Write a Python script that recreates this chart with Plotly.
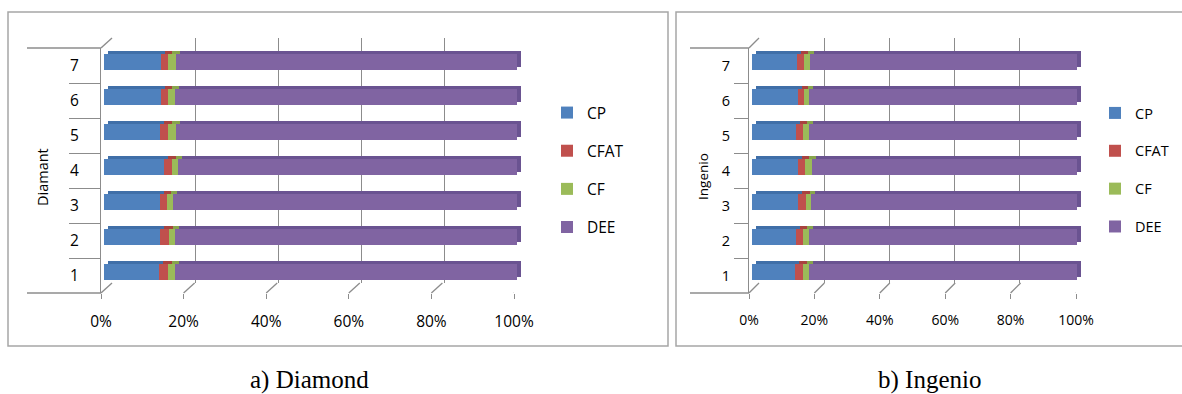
import plotly.graph_objects as go

W, H = 1182, 394

categories = [1, 2, 3, 4, 5, 6, 7]
cat_labels = ["1", "2", "3", "4", "5", "6", "7"]
series_names = ["CP", "CFAT", "CF", "DEE"]

# Diamond (left) - percent
diam_CP = [13.3, 13.6, 13.6, 14.5, 13.6, 13.8, 13.8]
diam_CFAT = [2.1, 2.1, 1.6, 1.9, 2.0, 1.7, 1.8]
diam_CF = [1.8, 1.6, 1.6, 1.6, 1.9, 1.8, 1.9]
diam_DEE = [82.8, 82.7, 83.2, 82.0, 82.5, 82.7, 82.5]

# Ingenio (right) - percent
ing_CP = [13.1, 13.5, 14.2, 14.2, 13.6, 14.1, 13.8]
ing_CFAT = [2.6, 2.1, 2.5, 2.2, 2.2, 1.9, 2.3]
ing_CF = [1.8, 1.8, 1.5, 2.0, 1.8, 1.5, 1.7]
ing_DEE = [82.5, 82.6, 81.8, 81.6, 82.4, 82.5, 82.2]

x_tickvals = [0, 20, 40, 60, 80, 100]
x_ticktext = ["0%", "20%", "40%", "60%", "80%", "100%"]

colors = ["#4F81BD", "#C0504D", "#9BBB59", "#8064A2"]
dark_colors = ["#406FA8", "#A8433F", "#87A54C", "#6A5391"]
GRAY = "#8C8C8C"
BOX = "#A6A6A6"


def px(p):
    return p / W


def py(p):
    return 1 - p / H


fig = go.Figure()
shapes = []
annotations = []


def add_panel(idx0, data, cfg, legend_name):
    gx, sx, bx, fx = [idx0 + i for i in range(4)]
    names = {}
    for k in (gx, sx, bx, fx):
        names[k] = ("x" if k == 1 else f"x{k}", "y" if k == 1 else f"y{k}")

    def axkey(a, k):
        return f"{a}axis" if k == 1 else f"{a}axis{k}"

    # grid subplot (back wall)
    fig.add_trace(go.Scatter(x=[None], y=[None], xaxis=names[gx][0], yaxis=names[gx][1],
                             showlegend=False, hoverinfo="skip"))
    fig.layout[axkey("x", gx)] = dict(domain=[px(cfg["grid_x"][0]), px(cfg["grid_x"][1])],
                                      range=[0, 100], anchor=names[gx][1], tickmode="array",
                                      tickvals=x_tickvals[1:], showticklabels=False,
                                      showgrid=True, gridcolor=GRAY, gridwidth=1.3,
                                      zeroline=False, showline=False, fixedrange=True,
                                      automargin=False)
    fig.layout[axkey("y", gx)] = dict(domain=[py(cfg["grid_y"][1]), py(cfg["grid_y"][0])],
                                      range=[0, 1], anchor=names[gx][0], visible=False,
                                      fixedrange=True, automargin=False)

    # shadow bars (top/side faces)
    for i, vals in enumerate(data):
        fig.add_trace(go.Bar(y=categories, x=vals, orientation="h", width=0.457,
                             marker=dict(color=dark_colors[i], line=dict(width=0)),
                             xaxis=names[sx][0], yaxis=names[sx][1], showlegend=False,
                             hoverinfo="skip"))
    dx, dy = cfg["depth_bar"]
    fig.layout[axkey("x", sx)] = dict(domain=[px(cfg["bar_x"][0] + dx), px(cfg["bar_x"][1] + dx)],
                                      range=[0, 100], anchor=names[sx][1], visible=False,
                                      fixedrange=True, automargin=False)
    fig.layout[axkey("y", sx)] = dict(domain=[py(cfg["bar_y"][1] - dy), py(cfg["bar_y"][0] - dy)],
                                      range=[0.5, 7.5], anchor=names[sx][0], visible=False,
                                      fixedrange=True, automargin=False)

    # front bars
    for i, vals in enumerate(data):
        fig.add_trace(go.Bar(y=categories, x=vals, orientation="h", width=0.457,
                             name=series_names[i], legendgroup=series_names[i] + legend_name,
                             marker=dict(color=colors[i], line=dict(width=0)),
                             xaxis=names[bx][0], yaxis=names[bx][1], legend=legend_name))
    fig.layout[axkey("x", bx)] = dict(domain=[px(cfg["bar_x"][0]), px(cfg["bar_x"][1])],
                                      range=[0, 100], anchor=names[bx][1], visible=False,
                                      fixedrange=True, automargin=False)
    fig.layout[axkey("y", bx)] = dict(domain=[py(cfg["bar_y"][1]), py(cfg["bar_y"][0])],
                                      range=[0.5, 7.5], anchor=names[bx][0], visible=False,
                                      fixedrange=True, automargin=False)

    # front axes
    fig.add_trace(go.Scatter(x=[None], y=[None], xaxis=names[fx][0], yaxis=names[fx][1],
                             showlegend=False, hoverinfo="skip"))
    fig.layout[axkey("x", fx)] = dict(domain=[px(cfg["front_x"][0]), px(cfg["front_x"][1])],
                                      range=[0, 100], anchor=names[fx][1], tickmode="array",
                                      tickvals=x_tickvals, ticktext=x_ticktext,
                                      ticks="outside", ticklen=5, tickcolor=GRAY, tickwidth=1.3,
                                      showgrid=False, zeroline=False, showline=False,
                                      tickfont=cfg["xfont"], ticklabelstandoff=cfg["xstand"],
                                      fixedrange=True, automargin=False)
    fig.layout[axkey("y", fx)] = dict(domain=[py(cfg["front_y"][1]), py(cfg["front_y"][0])],
                                      range=[0.5, 7.5], anchor=names[fx][0], tickmode="array",
                                      tickvals=categories, ticktext=cat_labels, ticks="",
                                      minor=dict(tickmode="array",
                                                 tickvals=[c + 0.5 for c in categories[:-1]],
                                                 ticks="outside", ticklen=cfg["minorlen"],
                                                 tickcolor=GRAY, tickwidth=1.3, showgrid=False),
                                      showgrid=False, zeroline=False, showline=True,
                                      linecolor=GRAY, linewidth=1.3,
                                      tickfont=cfg["yfont"], ticklabelstandoff=cfg["ystand"],
                                      fixedrange=True, automargin=False)

    ddx, ddy = cfg["depth"]
    # diagonal floor connectors at each tick
    for v in x_tickvals:
        shapes.append(dict(type="line", xref=names[fx][0], xsizemode="pixel", xanchor=v,
                           x0=0, x1=ddx, yref="paper", ysizemode="pixel",
                           yanchor=py(cfg["front_y"][1]), y0=0, y1=ddy,
                           line=dict(color=GRAY, width=1.3)))
    # top-left wall diagonal
    shapes.append(dict(type="line", xref=names[fx][0], xsizemode="pixel", xanchor=0,
                       x0=0, x1=ddx, yref="paper", ysizemode="pixel",
                       yanchor=py(cfg["front_y"][0]), y0=0, y1=ddy,
                       line=dict(color=GRAY, width=1.3)))
    # long category boundary lines (top & bottom)
    for yy in cfg["front_y"]:
        shapes.append(dict(type="line", xref="paper", yref="paper",
                           x0=px(cfg["longline_x"]), x1=px(cfg["front_x"][0]),
                           y0=py(yy), y1=py(yy), line=dict(color=GRAY, width=1.3)))

    annotations.append(dict(text=cfg["title"], x=px(cfg["title_pos"][0]), y=py(cfg["title_pos"][1]),
                            xref="paper", yref="paper", showarrow=False, textangle=-90,
                            font=cfg["titlefont"], xanchor="center", yanchor="middle"))
    annotations.append(dict(text=cfg["caption"], x=px(cfg["caption_pos"][0]),
                            y=py(cfg["caption_pos"][1]), xref="paper", yref="paper",
                            showarrow=False, xanchor="center", yanchor="middle",
                            font=dict(family="Liberation Serif, Times New Roman, serif",
                                      size=25, color="#000")))


left_cfg = dict(grid_x=(112, 527), grid_y=(38, 283), bar_x=(104, 517), bar_y=(43.5, 288.5),
                front_x=(101, 514), front_y=(48, 293), depth_bar=(4, 3), depth=(11, 10),
                longline_x=27, minorlen=31,
                xfont=dict(family="Open Sans", size=15.5, color="#000"), xstand=9,
                yfont=dict(family="Open Sans", size=15.5, color="#000"), ystand=18,
                title="Diamant", title_pos=(42, 177),
                titlefont=dict(family="Open Sans", size=14.5, color="#000"),
                caption="a) Diamond", caption_pos=(309, 380))

right_cfg = dict(grid_x=(759, 1084), grid_y=(38, 283), bar_x=(752, 1077), bar_y=(43.5, 288.5),
                 front_x=(749, 1076), front_y=(48, 293), depth_bar=(4, 3), depth=(10, 10),
                 longline_x=690, minorlen=14,
                 xfont=dict(family="Liberation Sans Narrow, Open Sans", size=14, color="#000"),
                 xstand=9,
                 yfont=dict(family="Liberation Sans Narrow, Open Sans", size=14.5, color="#000"),
                 ystand=15,
                 title="Ingenio", title_pos=(703, 177),
                 titlefont=dict(family="Liberation Sans Narrow, Open Sans", size=13.5, color="#000"),
                 caption="b) Ingenio", caption_pos=(929, 380))

add_panel(1, [diam_CP, diam_CFAT, diam_CF, diam_DEE], left_cfg, "legend")
add_panel(5, [ing_CP, ing_CFAT, ing_CF, ing_DEE], right_cfg, "legend2")

# panel borders
shapes.append(dict(type="rect", xref="paper", yref="paper", x0=px(8), x1=px(668),
                   y0=py(346), y1=py(12), line=dict(color=BOX, width=1.5)))
shapes.append(dict(type="rect", xref="paper", yref="paper", x0=px(676), x1=px(1195),
                   y0=py(346), y1=py(12), line=dict(color=BOX, width=1.5)))

fig.update_layout(
    width=W, height=H, margin=dict(l=0, r=0, t=0, b=0, autoexpand=False),
    paper_bgcolor="white", plot_bgcolor="rgba(0,0,0,0)",
    barmode="stack", bargap=0,
    shapes=shapes, annotations=annotations,
    legend=dict(x=px(547), y=py(96), xanchor="left", yanchor="top",
                font=dict(family="Open Sans", size=15.5, color="#000"),
                tracegroupgap=15, traceorder="grouped", itemwidth=30,
                bgcolor="rgba(0,0,0,0)"),
    legend2=dict(x=px(1095), y=py(97), xanchor="left", yanchor="top",
                 font=dict(family="Liberation Sans Narrow, Open Sans", size=14.5, color="#000"),
                 tracegroupgap=16, traceorder="grouped", itemwidth=30,
                 bgcolor="rgba(0,0,0,0)"),
)

fig.write_html("out.html")
